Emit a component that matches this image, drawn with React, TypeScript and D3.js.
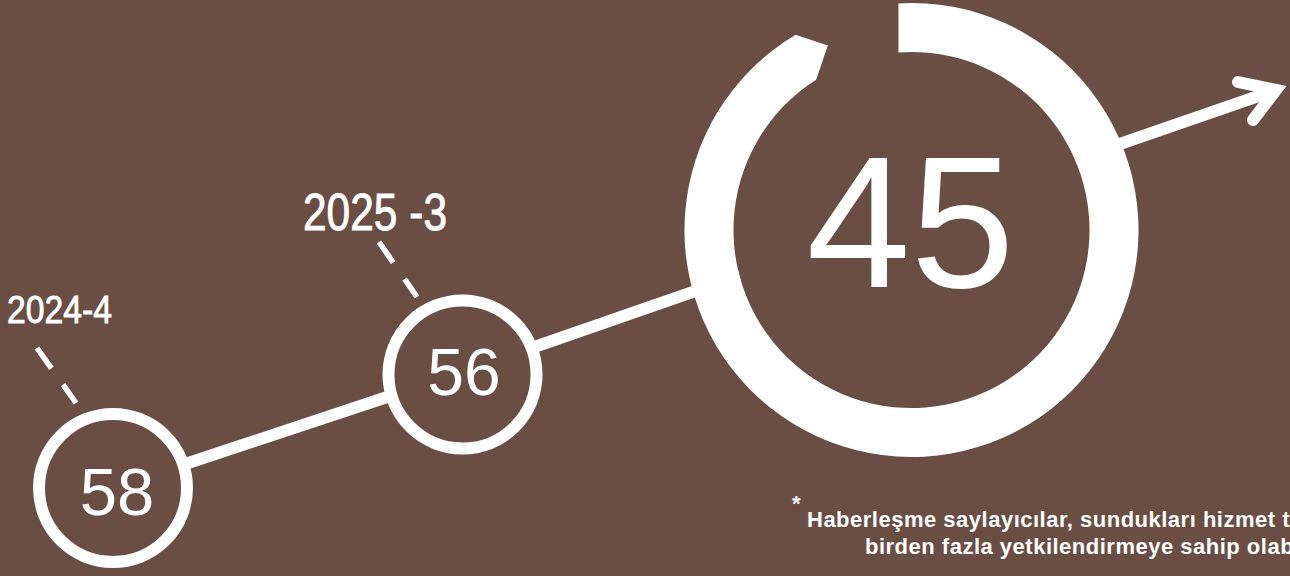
import React from "react";
import * as d3 from "d3";

// ---- data ----
const periods = ["2024-4", "2025 -3", "2025-4"];
const periodLabels = ["2024-4", "2025 -3", ""];
const values = [58, 56, 45];
const footnoteLines = [
  "Haberleşme saylayıcılar, sundukları hizmet türüne göre",
  "birden fazla yetkilendirmeye sahip olabilmektedir.",
];

// ---- layout ----
const W = 1290;
const H = 576;
const BG = "#6a4e43";
const FG = "#ffffff";
const FONT = "'Liberation Sans', Arial, Helvetica, sans-serif";

const xScale = d3.scaleOrdinal<string, number>().domain(periods).range([113, 462.5, 911.5]);
const yScale = d3.scaleOrdinal<string, number>().domain(periods).range([488, 374.5, 230]);
const outerR = d3.scaleOrdinal<string, number>().domain(periods).range([80, 80, 227]);
const ringW = d3.scaleOrdinal<string, number>().domain(periods).range([12, 12, 49]);
const numSize = d3.scaleOrdinal<string, number>().domain(periods).range([67, 66, 187]);
const numDx = d3.scaleOrdinal<string, number>().domain(periods).range([4, 1.5, -1]);
const numBaseDy = d3.scaleOrdinal<string, number>().domain(periods).range([27, 20.5, 57]);
// trend line passes slightly above the centres of the later points
const lineDy = d3.scaleOrdinal<string, number>().domain(periods).range([0, -2.5, -14]);

// labels
const labelX = [7, 303];
const labelBase = [323, 230];
const labelSize = [39, 51.5];
const labelLen = [105, 144];
// leader lines relative to circle centre
const leaderFrom: [number, number][] = [[-76, -140], [-83.5, -132.5]];
const leaderTo: [number, number][] = [[-37, -85], [-45.5, -77.5]];

const deg = Math.PI / 180;

function ringPath(cx: number, cy: number, ro: number, ri: number) {
  const pt = (r: number, t: number): [number, number] => [cx + r * Math.sin(t), cy - r * Math.cos(t)];
  const a0o = -3.3 * deg, a0i = -4.2 * deg;
  const a1o = 329.3 * deg, a1i = 327.6 * deg, aTip = 335.6 * deg;
  const p = d3.path();
  const s = pt(ro, a0o);
  p.moveTo(s[0], s[1]);
  p.arc(cx, cy, ro, a0o - Math.PI / 2, a1o - Math.PI / 2, false);
  const tip = pt((ro + ri) / 2, aTip);
  p.lineTo(tip[0], tip[1]);
  const ie = pt(ri, a1i);
  p.lineTo(ie[0], ie[1]);
  p.arc(cx, cy, ri, a1i - Math.PI / 2, a0i - Math.PI / 2, true);
  p.closePath();
  return p.toString();
}

export default function App() {
  const last = periods[periods.length - 1];
  const arrowVertex: [number, number] = [1276, 90];
  const linePts: [number, number][] = periods.map((p) => [xScale(p), yScale(p) + lineDy(p)] as [number, number]);
  linePts.push(arrowVertex);
  const line = d3.line<[number, number]>().curve(d3.curveLinear);
  const arrowHead: [number, number][] = [[1238, 82], arrowVertex, [1253, 120]];

  return (
    <svg
      width={W}
      height={H}
      viewBox={`0 0 ${W} ${H}`}
      style={{ position: "absolute", left: 0, top: 0, display: "block" }}
    >
      <rect x={0} y={0} width={W} height={H} fill={BG} />

      {/* trend line */}
      <path d={line(linePts) || ""} fill="none" stroke={FG} strokeWidth={12} strokeLinejoin="round" />
      <path
        d={line(arrowHead) || ""}
        fill="none"
        stroke={FG}
        strokeWidth={12}
        strokeLinecap="round"
        strokeLinejoin="miter"
        strokeMiterlimit={6}
      />

      {/* circles */}
      {periods.map((p, i) => {
        const cx = xScale(p), cy = yScale(p), ro = outerR(p), w = ringW(p);
        return (
          <g key={p}>
            {p === last ? (
              <>
                <circle cx={cx} cy={cy} r={ro - w} fill={BG} />
                <path d={ringPath(cx, cy, ro, ro - w)} fill={FG} />
              </>
            ) : (
              <circle cx={cx} cy={cy} r={ro - w / 2} fill={BG} stroke={FG} strokeWidth={w} />
            )}
            <text
              x={cx + numDx(p)}
              y={cy + numBaseDy(p)}
              textAnchor="middle"
              fill={FG}
              fontFamily={FONT}
              fontSize={numSize(p)}
            >
              {values[i]}
            </text>
          </g>
        );
      })}

      {/* labels + dashed leaders */}
      {periodLabels.map((lab, i) => {
        if (!lab) return null;
        const p = periods[i];
        const cx = xScale(p), cy = yScale(p);
        return (
          <g key={"lab" + i}>
            <line
              x1={cx + leaderFrom[i][0]}
              y1={cy + leaderFrom[i][1]}
              x2={cx + leaderTo[i][0]}
              y2={cy + leaderTo[i][1]}
              stroke={FG}
              strokeWidth={5.5}
              strokeDasharray="25 20"
            />
            <text
              x={labelX[i]}
              y={labelBase[i]}
              fill={FG}
              stroke={FG}
              strokeWidth={0.9}
              fontFamily={FONT}
              fontSize={labelSize[i]}
              textLength={labelLen[i]}
              lengthAdjust="spacingAndGlyphs"
            >
              {lab}
            </text>
          </g>
        );
      })}

      {/* footnote */}
      <text x={792} y={511} fill={FG} fontFamily={FONT} fontSize={22} fontWeight="bold">
        *
      </text>
      <text x={807} y={527} fill={FG} fontFamily={FONT} fontSize={22} fontWeight="bold" letterSpacing={0.5}>
        {footnoteLines[0]}
      </text>
      <text x={865} y={554} fill={FG} fontFamily={FONT} fontSize={22} fontWeight="bold" letterSpacing={0.5}>
        {footnoteLines[1]}
      </text>
    </svg>
  );
}
